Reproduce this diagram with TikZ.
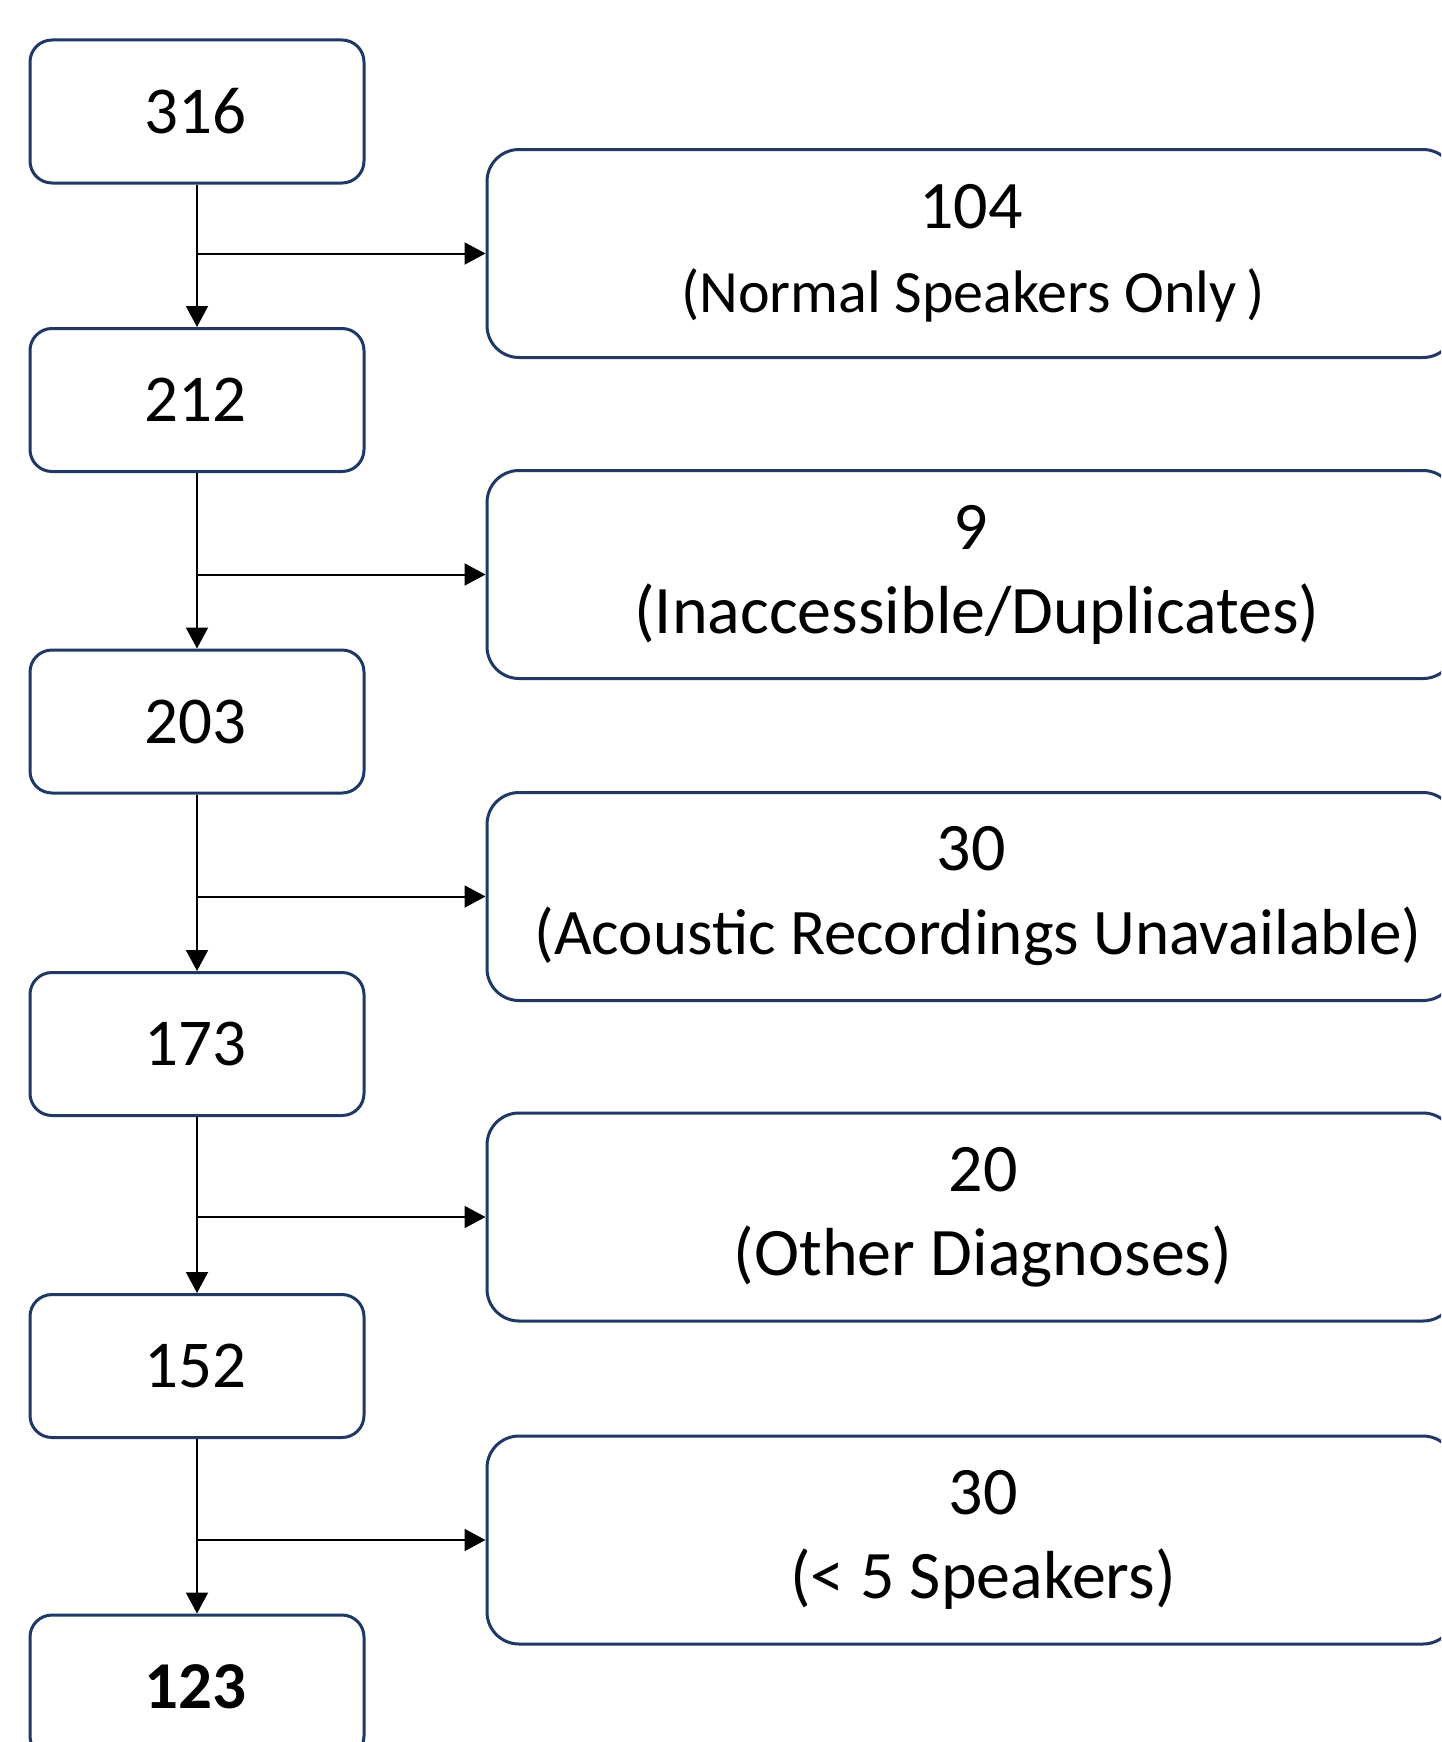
\documentclass[tikz,border=0pt]{standalone}
\usepackage{fontspec}
\setmainfont{Carlito}
\usetikzlibrary{arrows.meta}
\definecolor{navy}{HTML}{1F3864}
\begin{document}
\begin{tikzpicture}[x=1pt,y=-1pt,
  lbox/.style={draw=navy, line width=3pt, rounded corners=22pt, minimum width=334pt, minimum height=143pt, inner sep=0pt, align=center, font={\fontsize{67pt}{84pt}\selectfont}},
  rbox/.style={draw=navy, line width=3pt, rounded corners=32pt, minimum width=968pt, minimum height=208pt, inner sep=0pt, align=center, font={\fontsize{68pt}{84pt}\selectfont}},
  arr/.style={line width=2pt, -{Triangle[length=21pt,width=22pt]}}]
\useasboundingbox (0,0) rectangle (1441,1742);
\clip (0,0) rectangle (1441,1742);
\fill[white] (0,0) rectangle (1441,1742);
\newcommand{\sh}[1]{\hspace*{#1pt}}
\newcommand{\fsz}[1]{\fontsize{#1pt}{84pt}\selectfont}
% left column
\node[lbox] (l1) at (197,111.5) {316\sh{3}};
\node[lbox] (l2) at (197,400) {212\sh{3}};
\node[lbox] (l3) at (197,721.5) {203\sh{3}};
\node[lbox] (l4) at (197,1044) {173\sh{3}};
\node[lbox] (l5) at (197,1366) {152\sh{3}};
\node[lbox] (l6) at (197,1686.5) {\textbf{123}\sh{3}};
% right column
\node[rbox] (r1) at (971,253.5) {104\\{\fsz{60}\sh{4}(Normal Speakers Only\,)}};
\node[rbox] (r2) at (971,574.5) {9\\\sh{12}(Inaccessible/Duplicates)};
\node[rbox] (r3) at (971,896.5) {30\\{\fsz{65}\sh{14}(Acoustic Recordings Unavailable)}};
\node[rbox] (r4) at (971,1217) {\sh{24}20\\\sh{24}(Other Diagnoses)};
\node[rbox] (r5) at (971,1540) {\sh{24}30\\\sh{24}(< 5 Speakers)};
% connectors
\foreach \a/\b/\r in {l1/l2/r1, l2/l3/r2, l3/l4/r3, l4/l5/r4, l5/l6/r5}{
  \draw[arr] (\a.south) -- (\b.north);
  \coordinate (j\r) at (\a.south |- \r.west);
  \draw[arr] (j\r) -- (\r.west);
}
\end{tikzpicture}
\end{document}
